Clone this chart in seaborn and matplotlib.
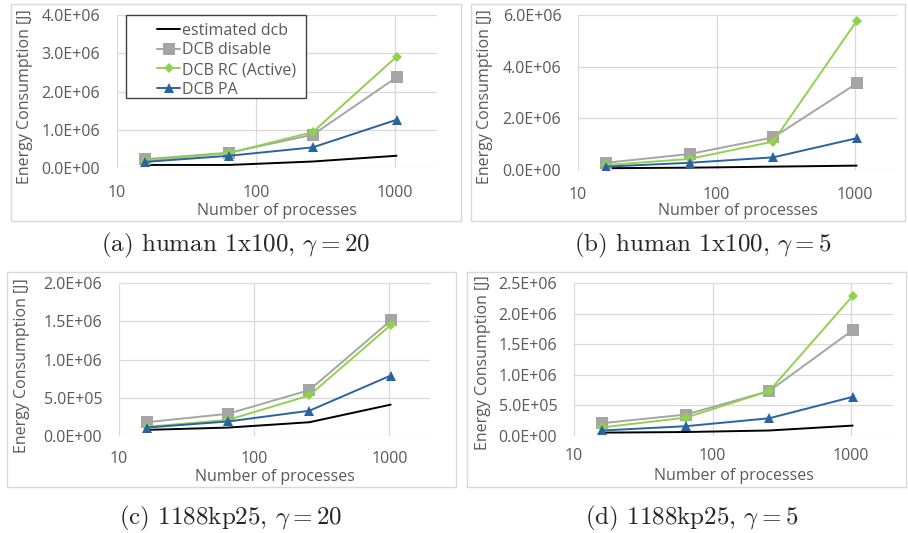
import numpy as np
import pandas as pd
import matplotlib
matplotlib.use("Agg")
import matplotlib.pyplot as plt
import seaborn as sns
from matplotlib.patches import Rectangle
from matplotlib.ticker import FuncFormatter, FixedLocator, NullLocator

# Data
procs = [16, 64, 256, 1024]
series_names = ["estimated dcb", "DCB disable", "DCB RC (Active)", "DCB PA"]

# (a) human 1x100, gamma=20
a_est = [0.08e6, 0.08e6, 0.17e6, 0.32e6]
a_dis = [0.23e6, 0.40e6, 0.87e6, 2.37e6]
a_rc = [0.19e6, 0.39e6, 0.94e6, 2.91e6]
a_pa = [0.16e6, 0.32e6, 0.54e6, 1.26e6]

# (b) human 1x100, gamma=5
b_est = [0.07e6, 0.09e6, 0.13e6, 0.17e6]
b_dis = [0.28e6, 0.62e6, 1.26e6, 3.35e6]
b_rc = [0.19e6, 0.43e6, 1.10e6, 5.77e6]
b_pa = [0.13e6, 0.28e6, 0.49e6, 1.23e6]

# (c) 1188kp25, gamma=20
c_est = [0.08e6, 0.11e6, 0.18e6, 0.41e6]
c_dis = [0.18e6, 0.29e6, 0.60e6, 1.51e6]
c_rc = [0.12e6, 0.21e6, 0.53e6, 1.45e6]
c_pa = [0.11e6, 0.19e6, 0.33e6, 0.79e6]

# (d) 1188kp25, gamma=5
d_est = [0.055e6, 0.065e6, 0.09e6, 0.17e6]
d_dis = [0.21e6, 0.35e6, 0.735e6, 1.73e6]
d_rc = [0.14e6, 0.30e6, 0.735e6, 2.29e6]
d_pa = [0.09e6, 0.16e6, 0.29e6, 0.64e6]

captions = [r"(a) human 1x100, $\gamma = 20$", r"(b) human 1x100, $\gamma = 5$",
            r"(c) 1188kp25, $\gamma = 20$", r"(d) 1188kp25, $\gamma = 5$"]
ymax = [4.0e6, 6.0e6, 2.0e6, 2.5e6]
ystep = [1.0e6, 2.0e6, 0.5e6, 0.5e6]

colors = ["#000000", "#a5a5a5", "#92d050", "#2a64a0"]
markers = [None, "s", "D", "^"]
msizes = [0, 8, 5, 7.5]

sns.set_theme(style="whitegrid")
plt.rcParams["font.family"] = ["Open Sans", "DejaVu Sans"]
plt.rcParams["mathtext.fontset"] = "cm"

W, H = 908, 533
fig = plt.figure(figsize=(W / 100, H / 100), dpi=100)


def px_axes(l, t, r, b):
    return fig.add_axes([l / W, 1 - b / H, (r - l) / W, (b - t) / H])


# axes box (left, top, right, bottom) and frame box, in pixels
axes_px = [(117, 15, 437, 168), (578, 15, 897, 170), (119, 283, 430, 436), (574, 283, 893, 436)]
frame_px = [(11, 4, 461, 221), (471, 4, 905, 221), (7, 272, 456, 487), (467, 272, 906, 487)]
ylab_px = [(25, 97), (485, 97), (22, 366), (483, 363)]
xlab_y = [211, 211, 477, 476]
xpad = [12, 12, 10.5, 8.5]
cap_px = [(236, 245), (703, 245), (231, 518), (692, 518)]

data = [
    [a_est, a_dis, a_rc, a_pa],
    [b_est, b_dis, b_rc, b_pa],
    [c_est, c_dis, c_rc, c_pa],
    [d_est, d_dis, d_rc, d_pa],
]

grey = "#595959"

for i in range(4):
    fl, ft, fr, fb = frame_px[i]
    fig.patches.append(Rectangle((fl / W, 1 - fb / H), (fr - fl) / W, (fb - ft) / H,
                                 transform=fig.transFigure, fill=False,
                                 edgecolor="#d9d9d9", linewidth=1.0))
    ax = px_axes(*axes_px[i])
    for j in range(4):
        sns.lineplot(x=procs, y=data[i][j], ax=ax, color=colors[j],
                     marker=markers[j], markersize=msizes[j], markeredgewidth=0,
                     linewidth=1.4, label=series_names[j], legend=False)
    ax.set_xscale("log")
    ax.set_xlim(10, 2000)
    ax.set_ylim(0, ymax[i])
    ax.xaxis.set_major_locator(FixedLocator([10, 100, 1000]))
    ax.xaxis.set_minor_locator(NullLocator())
    ax.xaxis.set_major_formatter(FuncFormatter(lambda v, p: f"{int(round(v))}"))
    ax.set_yticks(np.arange(0, ymax[i] + 1, ystep[i]))
    ax.yaxis.set_major_formatter(FuncFormatter(lambda v, p: f"{v:.1E}"))
    ax.grid(True, color="#d9d9d9", linewidth=0.9)
    for s in ax.spines.values():
        s.set_visible(False)
    ax.tick_params(axis="both", length=0, labelsize=11.5, colors=grey)
    ax.tick_params(axis="y", pad=12)
    ax.tick_params(axis="x", pad=xpad[i])
    ax.set_xlabel("")
    ax.set_ylabel("")
    ax.set_facecolor("white")

    lx, ly = ylab_px[i]
    fig.text(lx / W, 1 - ly / H, "Energy Consumption [J]", rotation=90,
             ha="center", va="center", fontsize=11.5, color=grey)
    l, t, r, b = axes_px[i]
    fig.text((l + r) / 2 / W, 1 - xlab_y[i] / H, "Number of processes",
             ha="center", va="center", fontsize=11.5, color=grey)
    cx, cy = cap_px[i]
    fig.text(cx / W, 1 - cy / H, captions[i], ha="center", va="center",
             fontsize=18, family="cmr10")

    if i == 0:
        handles, labels = ax.get_legend_handles_labels()
        # legend box
        fig.patches.append(Rectangle((126 / W, 1 - 98 / H), 180 / W, 83 / H,
                                     transform=fig.transFigure, facecolor="white",
                                     edgecolor="#404040", linewidth=1.0, zorder=5))
        leg = fig.legend(handles, labels, loc="upper left",
                         bbox_to_anchor=(149 / W, 1 - 15 / H),
                         bbox_transform=fig.transFigure, frameon=False,
                         borderpad=0, handlelength=1.45, handletextpad=0.1,
                         labelspacing=0.22, fontsize=11.5)
        for txt in leg.get_texts():
            txt.set_color(grey)
        leg.set_zorder(6)

fig.savefig("out.png", dpi=100, facecolor="white")
